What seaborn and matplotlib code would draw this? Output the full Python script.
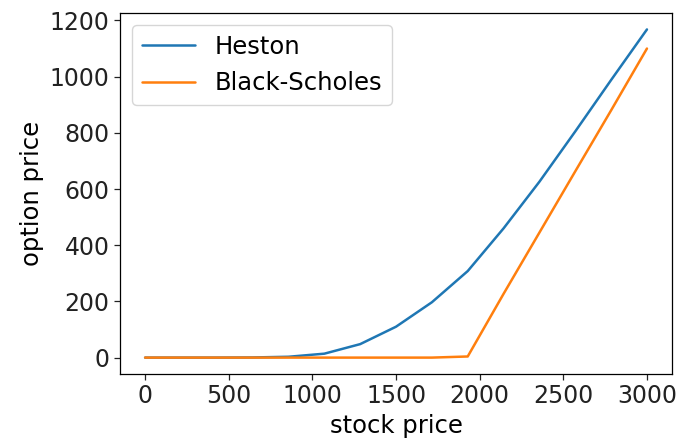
import numpy as np
import pandas as pd
import matplotlib
matplotlib.use("Agg")
import matplotlib.pyplot as plt
import seaborn as sns

# Stock price grid and option prices under each model
stock_price = np.linspace(0, 3000, 15)
heston = [0, 0, 0, 0.5, 3, 14, 48, 110, 197, 308, 460, 626, 805, 988, 1168]
black_scholes = [0, 0, 0, 0, 0, 0, 0, 0, 0, 4, 227, 445, 663, 880, 1100]

df = pd.DataFrame({
    "stock price": np.concatenate([stock_price, stock_price]),
    "option price": heston + black_scholes,
    "model": ["Heston"] * len(stock_price) + ["Black-Scholes"] * len(stock_price),
})

sns.set_theme(style="ticks")
plt.rcParams.update({
    "font.family": ["DejaVu Sans"],
    "text.color": "black",
    "axes.labelcolor": "black",
    "axes.edgecolor": "black",
    "axes.linewidth": 0.9,
    "xtick.color": "black",
    "ytick.color": "black",
    "xtick.major.size": 4,
    "ytick.major.size": 4,
    "xtick.major.width": 0.9,
    "ytick.major.width": 0.9,
})

fig = plt.figure(figsize=(6.8, 4.46), dpi=100)
ax = fig.add_axes([0.1765, 0.1614, 0.8118, 0.8094])

sns.lineplot(data=df, x="stock price", y="option price", hue="model",
             palette=["#1f77b4", "#ff7f0e"], linewidth=1.8, ax=ax)

ax.set_xticks([0, 500, 1000, 1500, 2000, 2500, 3000])
ax.set_yticks([0, 200, 400, 600, 800, 1000, 1200])
ax.tick_params(labelsize=17, colors="#222222")
ax.set_xlabel("stock price", fontsize=17.5)
ax.set_ylabel("option price", fontsize=17.5)

leg = ax.legend(loc="upper left", fontsize=17.5, handlelength=2.2, frameon=True)
leg.get_frame().set_edgecolor("#cccccc")
for t in leg.get_texts():
    t.set_color("black")

fig.savefig("out.png", dpi=100, facecolor="white")
